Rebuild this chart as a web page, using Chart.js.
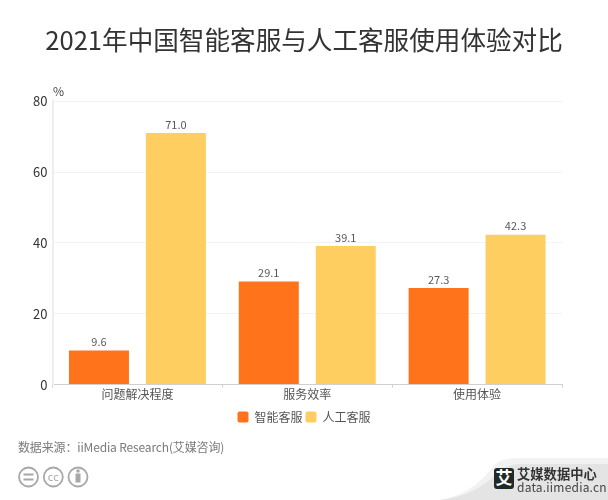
<!DOCTYPE html>
<html>
<head>
<meta charset="utf-8">
<script src="https://cdn.jsdelivr.net/npm/chart.js@4"></script>
<style>
  html, body { margin: 0; padding: 0; background: #fff; }
  #wrap { position: relative; width: 608px; height: 500px; overflow: hidden; font-family: "Noto Sans CJK SC", sans-serif; }
  #chart { position: absolute; left: 0; top: 0; }
  #source { position: absolute; left: 18px; top: 439px; font-size: 12px; color: #7a7a7a; line-height: 16px; letter-spacing: -.15px; }
  #icons { position: absolute; left: 0; top: 460px; }
  #corner { position: absolute; left: 400px; top: 450px; }
  #brand { position: absolute; left: 517px; top: 467px; color: #333; font-size: 13.3px; font-weight: 700; line-height: 14px; }
  #brandUrl { position: absolute; left: 517px; top: 480px; color: #444; font-size: 12px; line-height: 13px; letter-spacing: .2px; }
</style>
</head>
<body>
<div id="wrap">
  <svg id="corner" width="208" height="50">
    <path d="M40 50 C70 44 82 30 92 18 C98 10 108 8 120 8 L208 8 L208 50 Z" fill="#f2f2f2"/>
    <path d="M40 50 C70 46 86 34 96 24 C102 18 110 14 120 14 L208 14 L208 50 Z" fill="#e4e4e4"/>
    <rect x="94" y="18" width="20" height="21" rx="3" fill="#1f2a28"/>
    <text x="104" y="34" font-size="17" font-weight="700" text-anchor="middle" fill="#fff" font-family="Noto Sans CJK SC">艾</text>
  </svg>
  <canvas id="chart" width="608" height="500"></canvas>
  <div id="source">数据来源：iiMedia Research(艾媒咨询)</div>
  <svg id="icons" width="100" height="34" fill="none" stroke="#a8a8a8" stroke-width="1.8">
    <circle cx="28.5" cy="17" r="9.5"/>
    <path d="M23.5 14.5h10M23.5 19.5h10"/>
    <circle cx="53.3" cy="17" r="9.5"/>
    <text x="53.3" y="20.5" font-size="10" text-anchor="middle" fill="#a8a8a8" stroke="none" font-family="DejaVu Sans">cc</text>
    <circle cx="78" cy="17" r="9.5"/>
    <circle cx="78" cy="11" r="1.8" fill="#a8a8a8" stroke="none"/>
    <rect x="75.5" y="13.5" width="5" height="9" fill="#a8a8a8" stroke="none"/>
  </svg>
  <div id="brand">艾媒数据中心</div>
  <div id="brandUrl">data.iimedia.cn</div>
</div>
<script>
const categories = ['问题解决程度', '服务效率', '使用体验'];
const smartService = [9.6, 29.1, 27.3];
const humanService = [71.0, 39.1, 42.3];
const yTicks = [0, 20, 40, 60, 80];

const cjk = '"Noto Sans CJK SC", sans-serif';

// value labels over the bars and the % unit at the top of the y axis
const barLabels = {
  id: 'barLabels',
  afterDatasetsDraw(chart) {
    const ctx = chart.ctx;
    ctx.save();
    ctx.font = '11px ' + cjk;
    ctx.fillStyle = '#595959';
    ctx.textAlign = 'center';
    ctx.textBaseline = 'bottom';
    chart.data.datasets.forEach((ds, i) => {
      chart.getDatasetMeta(i).data.forEach((bar, j) => {
        ctx.fillText(ds.data[j].toFixed(1), bar.x, bar.y - 3);
      });
    });
    ctx.font = '12px ' + cjk;
    ctx.textAlign = 'left';
    ctx.fillStyle = '#444';
    ctx.fillText('%', 53, 97);
    ctx.restore();
  }
};

new Chart(document.getElementById('chart'), {
  type: 'bar',
  data: {
    labels: categories,
    datasets: [
      { label: '智能客服', data: smartService, backgroundColor: '#ff741a' },
      { label: '人工客服', data: humanService, backgroundColor: '#ffce60' }
    ]
  },
  options: {
    responsive: false,
    animation: false,
    devicePixelRatio: 1,
    categoryPercentage: 0.906,
    barPercentage: 0.78,
    layout: { padding: { left: 0, right: 0, top: 14, bottom: 67 } },
    plugins: {
      title: {
        display: true,
        text: '2021年中国智能客服与人工客服使用体验对比',
        color: '#333',
        font: { family: cjk, size: 25.6, weight: 'normal' },
        padding: { top: 11, bottom: 45.5 }
      },
      legend: {
        position: 'bottom',
        labels: {
          color: '#555',
          font: { family: cjk, size: 12 },
          boxWidth: 11,
          boxHeight: 11,
          padding: 3,
          useBorderRadius: true,
          borderRadius: 2
        }
      },
      tooltip: { enabled: false }
    },
    scales: {
      x: {
        afterFit: axis => { axis.height += 6; },
        grid: {
          drawOnChartArea: false,
          color: '#d0d0d0',
          tickLength: 3
        },
        border: { color: '#d0d0d0' },
        ticks: { color: '#555', font: { family: cjk, size: 12 }, padding: 0 }
      },
      y: {
        min: 0,
        max: 80,
        afterBuildTicks: axis => { axis.ticks = yTicks.map(v => ({ value: v })); },
        afterFit: axis => { axis.width = 52.5; },
        grid: { color: '#f3f3f3', drawTicks: false },
        border: { color: '#eeeeee', width: 2 },
        ticks: { color: '#333', font: { family: cjk, size: 13 }, padding: 5 }
      },
      // empty axis that holds the right margin, so title and legend stay centred
      rightGap: {
        position: 'right',
        afterFit: axis => { axis.width = 46; },
        grid: { display: false },
        border: { display: false },
        ticks: { display: false }
      }
    }
  },
  plugins: [barLabels]
});
</script>
</body>
</html>
